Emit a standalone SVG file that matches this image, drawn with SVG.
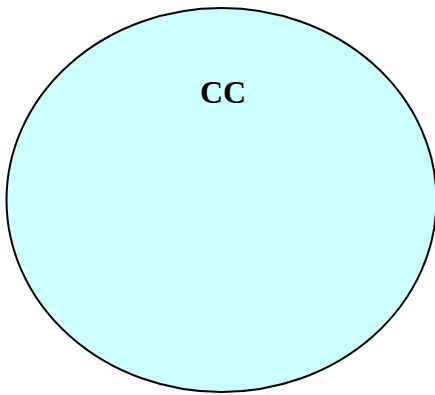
<svg xmlns="http://www.w3.org/2000/svg" width="435" height="395" viewBox="0 0 435 395">
<style>
.node{fill:#ccffff;stroke:#000;stroke-width:2}
.lbl{font-family:"Liberation Serif",serif;font-weight:bold;font-size:32px;fill:#000;text-anchor:middle}
</style>
<rect width="435" height="395" fill="#fff"/>
<g id="connectors"></g>
<g id="CC">
<ellipse class="node" cx="221.5" cy="200" rx="215" ry="192"/>
<text class="lbl" x="223" y="103">CC</text>
</g>
</svg>
